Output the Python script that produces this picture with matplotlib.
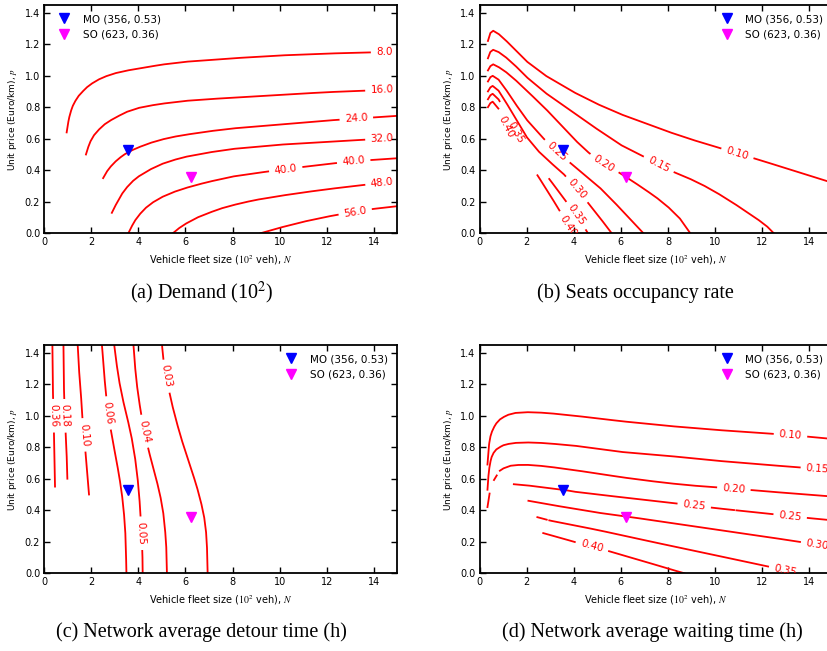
import numpy as np
import matplotlib
matplotlib.use("Agg")
import matplotlib.pyplot as plt

plt.rcParams["font.family"] = "DejaVu Sans"
plt.rcParams["mathtext.fontset"] = "stix"

# operating points (N in 10^2 veh, p in Euro/km)
MO_N, MO_P = 3.56, 0.53
SO_N, SO_P = 6.23, 0.36

# (a) demand (10^2) - contour lines
A08_X = [0.95, 1.0, 1.05, 1.12, 1.2, 1.3, 1.45, 1.6, 1.8, 2.0, 2.3, 2.6, 3.0, 3.5, 4.0, 5.0, 6.0, 8.0, 10.0, 12.0, 14.0, 15.0]
A08_Y = [0.64, 0.69, 0.73, 0.77, 0.805, 0.835, 0.87, 0.895, 0.925, 0.948, 0.975, 0.995, 1.015, 1.032, 1.045, 1.07, 1.088, 1.11, 1.128, 1.14, 1.148, 1.15]
A16_X = [1.77, 1.85, 1.95, 2.1, 2.3, 2.55, 2.8, 3.1, 3.5, 4.0, 4.5, 5.0, 6.0, 7.0, 8.0, 10.0, 12.0, 14.0, 15.0]
A16_Y = [0.5, 0.54, 0.58, 0.62, 0.655, 0.69, 0.715, 0.74, 0.77, 0.795, 0.81, 0.822, 0.84, 0.851, 0.86, 0.878, 0.895, 0.907, 0.912]
A24_X = [2.5, 2.65, 2.8, 3.0, 3.2, 3.4, 3.7, 4.0, 4.5, 5.0, 5.5, 6.0, 7.0, 8.0, 10.0, 12.0, 14.0, 15.0]
A24_Y = [0.35, 0.39, 0.42, 0.452, 0.478, 0.5, 0.525, 0.545, 0.573, 0.595, 0.612, 0.625, 0.647, 0.665, 0.69, 0.715, 0.735, 0.745]
A32_X = [2.87, 3.0, 3.15, 3.3, 3.5, 3.75, 4.0, 4.5, 5.0, 5.5, 6.0, 7.0, 8.0, 10.0, 12.0, 14.0, 15.0]
A32_Y = [0.13, 0.17, 0.21, 0.25, 0.29, 0.33, 0.36, 0.405, 0.44, 0.465, 0.485, 0.513, 0.535, 0.562, 0.58, 0.597, 0.603]
A40_X = [3.57, 3.7, 3.85, 4.05, 4.3, 4.6, 5.0, 5.5, 6.0, 6.5, 7.0, 8.0, 9.0, 10.0, 11.0, 12.0, 13.0, 14.0, 15.0]
A40_Y = [0.0, 0.04, 0.08, 0.12, 0.16, 0.195, 0.23, 0.262, 0.287, 0.308, 0.327, 0.36, 0.382, 0.402, 0.421, 0.439, 0.455, 0.466, 0.476]
A48_X = [5.46, 5.7, 6.0, 6.5, 7.0, 7.5, 8.0, 8.5, 9.0, 10.0, 11.0, 12.0, 13.0, 14.0, 15.0]
A48_Y = [0.0, 0.03, 0.06, 0.1, 0.13, 0.157, 0.178, 0.196, 0.212, 0.237, 0.259, 0.279, 0.297, 0.314, 0.33]
A56_X = [9.18, 9.6, 10.0, 11.0, 12.0, 13.0, 14.0, 15.0]
A56_Y = [0.0, 0.018, 0.035, 0.073, 0.105, 0.132, 0.155, 0.172]

# (b) seats occupancy rate
B10_X = [0.35, 0.45, 0.57, 0.8, 1.1, 1.5, 2.0, 2.8, 4.0, 5.0, 6.0, 7.0, 8.0, 9.0, 10.0, 11.0, 12.0, 13.0, 14.0, 15.0]
B10_Y = [1.22, 1.27, 1.285, 1.265, 1.225, 1.165, 1.09, 1.0, 0.895, 0.82, 0.755, 0.7, 0.645, 0.595, 0.55, 0.505, 0.46, 0.413, 0.366, 0.32]
B15_X = [0.35, 0.45, 0.57, 0.8, 1.1, 1.5, 2.0, 2.8, 3.8, 4.8, 6.0, 6.8, 7.6, 8.3, 8.9, 9.5, 10.1, 10.8, 11.3, 11.8, 12.2, 12.5]
B15_Y = [1.11, 1.15, 1.164, 1.15, 1.118, 1.065, 0.99, 0.89, 0.785, 0.68, 0.56, 0.5, 0.435, 0.385, 0.348, 0.305, 0.255, 0.19, 0.14, 0.09, 0.045, 0.0]
B20_X = [0.35, 0.45, 0.57, 0.8, 1.1, 1.5, 2.0, 2.8, 3.6, 4.1, 4.6, 5.0, 5.3, 5.7, 6.0, 6.5, 7.0, 7.5, 8.0, 8.5, 8.95]
B20_Y = [1.033, 1.06, 1.072, 1.055, 1.025, 0.975, 0.905, 0.79, 0.665, 0.585, 0.515, 0.47, 0.44, 0.405, 0.378, 0.33, 0.28, 0.228, 0.168, 0.095, 0.0]
B25_X = [0.35, 0.45, 0.55, 0.8, 1.1, 1.5, 2.0, 2.7, 3.3, 3.9, 4.5, 5.1, 5.7, 6.3, 6.96]
B25_Y = [0.963, 0.99, 0.999, 0.975, 0.915, 0.825, 0.72, 0.603, 0.518, 0.44, 0.365, 0.29, 0.2, 0.105, 0.0]
B30_X = [0.35, 0.45, 0.55, 0.8, 1.1, 1.5, 2.0, 2.5, 3.0, 3.56, 4.14, 4.62, 5.1, 5.61]
B30_Y = [0.9, 0.925, 0.935, 0.905, 0.835, 0.735, 0.61, 0.52, 0.45, 0.377, 0.28, 0.19, 0.1, 0.0]
B35_X = [0.35, 0.45, 0.55, 0.8, 1.1, 1.5, 2.0, 2.5, 2.99, 3.73, 4.13, 4.6]
B35_Y = [0.85, 0.875, 0.885, 0.85, 0.77, 0.65, 0.53, 0.43, 0.338, 0.19, 0.116, 0.0]
B40_X = [0.35, 0.45, 0.55, 0.8, 1.12, 1.5, 1.83, 2.49, 3.0, 3.49, 3.76, 4.0]
B40_Y = [0.8, 0.825, 0.835, 0.79, 0.677, 0.58, 0.505, 0.36, 0.24, 0.12, 0.05, 0.0]

# (c) network average detour time (h)
C36_X = [0.34, 0.36, 0.39, 0.41, 0.435, 0.455]
C36_Y = [1.5, 1.2, 1.0, 0.89, 0.7, 0.55]
C18_X = [0.81, 0.83, 0.87, 0.91, 0.95, 0.98]
C18_Y = [1.5, 1.2, 1.0, 0.88, 0.75, 0.6]
C10_X = [1.4, 1.47, 1.55, 1.62, 1.69, 1.76, 1.83, 1.9]
C10_Y = [1.5, 1.3, 1.15, 0.985, 0.88, 0.75, 0.62, 0.5]
C06_X = [2.42, 2.45, 2.55, 2.66, 2.78, 2.92, 3.06, 3.19, 3.3, 3.38, 3.44, 3.47, 3.49]
C06_Y = [1.5, 1.45, 1.25, 1.08, 0.95, 0.83, 0.72, 0.61, 0.5, 0.39, 0.27, 0.14, 0.0]
C05_X = [2.95, 2.97, 3.06, 3.18, 3.34, 3.52, 3.7, 3.85, 3.96, 4.04, 4.09, 4.13, 4.17, 4.18]
C05_Y = [1.5, 1.45, 1.34, 1.22, 1.1, 0.99, 0.87, 0.74, 0.61, 0.48, 0.36, 0.24, 0.12, 0.0]
C04_X = [3.76, 3.79, 3.85, 3.93, 4.03, 4.15, 4.3, 4.45, 4.62, 4.78, 4.93, 5.05, 5.13, 5.18, 5.2, 5.21]
C04_Y = [1.5, 1.45, 1.32, 1.2, 1.09, 0.98, 0.87, 0.77, 0.675, 0.585, 0.49, 0.39, 0.28, 0.18, 0.08, 0.0]
C03_X = [4.98, 5.0, 5.05, 5.14, 5.27, 5.43, 5.62, 5.83, 6.05, 6.27, 6.48, 6.66, 6.79, 6.87, 6.91, 6.93, 6.94]
C03_Y = [1.5, 1.45, 1.37, 1.28, 1.18, 1.07, 0.96, 0.85, 0.75, 0.65, 0.55, 0.45, 0.36, 0.27, 0.18, 0.08, 0.0]

# (d) network average waiting time (h)
D10_X = [0.33, 0.36, 0.4, 0.45, 0.51, 0.6, 0.7, 0.85, 1.0, 1.2, 1.5, 2.0, 2.5, 3.0, 4.0, 5.0, 6.0, 8.0, 10.0, 12.0, 13.2, 14.0, 15.0]
D10_Y = [0.69, 0.75, 0.82, 0.865, 0.895, 0.925, 0.95, 0.975, 0.99, 1.005, 1.017, 1.022, 1.02, 1.015, 1.0, 0.983, 0.965, 0.935, 0.91, 0.89, 0.876, 0.866, 0.852]
D15_X = [0.33, 0.36, 0.4, 0.45, 0.5, 0.58, 0.7, 0.85, 1.0, 1.2, 1.5, 2.0, 2.5, 3.0, 4.0, 5.0, 6.0, 8.0, 10.0, 12.0, 14.0, 15.0]
D15_Y = [0.53, 0.6, 0.66, 0.705, 0.735, 0.762, 0.785, 0.8, 0.812, 0.82, 0.827, 0.83, 0.828, 0.823, 0.81, 0.79, 0.77, 0.745, 0.715, 0.69, 0.667, 0.657]
D20_X = [0.33, 0.36, 0.4, 0.45, 0.5, 0.6, 0.7, 0.85, 1.0, 1.3, 1.6, 2.0, 2.5, 3.0, 4.0, 5.0, 6.0, 7.0, 8.0, 9.0, 10.0, 11.0, 12.0, 13.0, 14.0, 15.0]
D20_Y = [0.42, 0.45, 0.49, 0.53, 0.56, 0.59, 0.615, 0.65, 0.665, 0.682, 0.687, 0.688, 0.683, 0.675, 0.655, 0.633, 0.61, 0.59, 0.572, 0.557, 0.546, 0.535, 0.522, 0.51, 0.498, 0.487]
D25_X = [1.45, 2.0, 2.6, 3.0, 3.56, 4.0, 5.0, 6.0, 7.0, 8.0, 9.0, 10.0, 11.0, 12.0, 13.0, 14.0, 15.0]
D25_Y = [0.565, 0.558, 0.547, 0.54, 0.53, 0.518, 0.5, 0.483, 0.466, 0.449, 0.432, 0.414, 0.398, 0.382, 0.367, 0.35, 0.336]
D30_X = [2.07, 3.0, 4.0, 5.0, 6.25, 7.0, 8.0, 9.0, 10.0, 11.0, 12.0, 13.0, 14.0, 15.0]
D30_Y = [0.46, 0.435, 0.41, 0.385, 0.36, 0.344, 0.322, 0.3, 0.278, 0.256, 0.235, 0.213, 0.19, 0.168]
D35_X = [2.45, 3.0, 4.0, 5.0, 6.0, 7.0, 8.0, 9.0, 10.0, 11.0, 12.0, 13.0, 13.6]
D35_Y = [0.356, 0.334, 0.305, 0.275, 0.243, 0.21, 0.178, 0.146, 0.115, 0.083, 0.051, 0.02, 0.0]
D40_X = [2.7, 3.5, 4.0, 4.8, 5.5, 6.0, 7.0, 8.0, 8.7]
D40_Y = [0.255, 0.222, 0.2, 0.172, 0.14, 0.118, 0.075, 0.03, 0.0]

X_TICKS = [0, 2, 4, 6, 8, 10, 12, 14]
Y_TICKS = [0.0, 0.2, 0.4, 0.6, 0.8, 1.0, 1.2, 1.4]

LABEL_FS = 7.5
GAP_PAD = 6


def contour_line(ax, xs, ys, text, spots, renderer, hide=()):
    # line in pixels, resampled along its length so labels can cut a gap
    xy = ax.transData.transform(np.column_stack([xs, ys]))
    d = np.hypot(*np.diff(xy, axis=0).T)
    s = np.concatenate([[0.0], np.cumsum(d)])
    fs = np.linspace(0, s[-1], max(int(s[-1] * 3), 2))
    fx = np.interp(fs, s, xy[:, 0])
    fy = np.interp(fs, s, xy[:, 1])
    keep = np.ones(fs.size, bool)

    probe = ax.text(0, 0, text, fontsize=LABEL_FS)
    w = probe.get_window_extent(renderer).width
    probe.remove()

    inv = ax.transData.inverted()
    for sx, sy in spots:
        px, py = ax.transData.transform((sx, sy))
        i = np.argmin(np.hypot(fx - px, fy - py))
        s0 = fs[i]
        keep &= np.abs(fs - s0) > w / 2 + GAP_PAD
        x1, x2 = np.interp([s0 - w / 2, s0 + w / 2], fs, fx)
        y1, y2 = np.interp([s0 - w / 2, s0 + w / 2], fs, fy)
        ang = np.degrees(np.arctan2(y2 - y1, x2 - x1))
        if ang > 90:
            ang -= 180
        if ang < -90:
            ang += 180
        tx, ty = inv.transform((fx[i], fy[i]))
        ax.text(tx, ty, text, rotation=ang, rotation_mode="anchor",
                ha="center", va="center", color="red",
                fontsize=LABEL_FS, clip_on=True, zorder=3)

    pts = inv.transform(np.column_stack([fx, fy]))
    for h0, h1 in hide:
        keep &= ~((pts[:, 0] > h0) & (pts[:, 0] < h1))
    pts[~keep] = np.nan
    ax.plot(pts[:, 0], pts[:, 1], color="red", lw=1.3, zorder=2)


def setup(ax):
    ax.set_xlim(0, 15)
    ax.set_ylim(0, 1.45)
    ax.set_xticks(X_TICKS)
    ax.set_yticks(Y_TICKS)
    ax.set_xticklabels([str(t) for t in X_TICKS])
    ax.set_yticklabels(["%.1f" % t for t in Y_TICKS])
    ax.tick_params(direction="in", top=True, right=True, length=4,
                   width=1, labelsize=7, pad=3)
    for sp in ax.spines.values():
        sp.set_linewidth(1.3)
    ax.set_xlabel("Vehicle fleet size ($10^2$ veh), $N$", fontsize=7)
    ax.set_ylabel("Unit price (Euro/km), $p$", fontsize=6.5)


def points(ax, loc):
    ax.plot([MO_N], [MO_P], "v", color="blue", ms=6.5, zorder=4,
            label="MO (%d, %.2f)" % (round(MO_N * 100), MO_P))
    ax.plot([SO_N], [SO_P], "v", color="magenta", ms=6.5, zorder=4,
            label="SO (%d, %.2f)" % (round(SO_N * 100), SO_P))
    ax.legend(loc=loc, frameon=False, fontsize=7.5, numpoints=1)


fig = plt.figure(figsize=(8.27, 6.51), dpi=100)
renderer = fig.canvas.get_renderer()

W, H = 353 / 827, 228.6 / 651
ax_a = fig.add_axes([44.3 / 827, (651 - 233.3) / 651, W, H])
ax_b = fig.add_axes([479.7 / 827, (651 - 233.3) / 651, W, H])
ax_c = fig.add_axes([44.3 / 827, (651 - 573.3) / 651, W, H])
ax_d = fig.add_axes([479.7 / 827, (651 - 573.3) / 651, W, H])
for ax in (ax_a, ax_b, ax_c, ax_d):
    setup(ax)

# (a)
contour_line(ax_a, A08_X, A08_Y, "8.0", [(14.45, 1.15)], renderer)
contour_line(ax_a, A16_X, A16_Y, "16.0", [(14.35, 0.91)], renderer)
contour_line(ax_a, A24_X, A24_Y, "24.0", [(13.25, 0.737)], renderer)
contour_line(ax_a, A32_X, A32_Y, "32.0", [(14.35, 0.6)], renderer)
contour_line(ax_a, A40_X, A40_Y, "40.0", [(10.25, 0.41), (13.15, 0.46)], renderer)
contour_line(ax_a, A48_X, A48_Y, "48.0", [(14.35, 0.33)], renderer)
contour_line(ax_a, A56_X, A56_Y, "56.0", [(13.2, 0.14)], renderer)
points(ax_a, "upper left")

# (b)
contour_line(ax_b, B10_X, B10_Y, "0.10", [(10.94, 0.505)], renderer)
contour_line(ax_b, B15_X, B15_Y, "0.15", [(7.6, 0.435)], renderer)
contour_line(ax_b, B20_X, B20_Y, "0.20", [(5.28, 0.44)], renderer)
contour_line(ax_b, B25_X, B25_Y, "0.25", [(3.28, 0.518)], renderer)
contour_line(ax_b, B30_X, B30_Y, "0.30", [(4.14, 0.28)], renderer)
contour_line(ax_b, B35_X, B35_Y, "0.35", [(1.5, 0.635), (4.13, 0.116)], renderer,
             hide=[(0.85, 2.95)])
contour_line(ax_b, B40_X, B40_Y, "0.40", [(1.12, 0.677), (3.76, 0.048)], renderer,
             hide=[(0.8, 2.45)])
points(ax_b, "upper right")

# (c)
contour_line(ax_c, C36_X, C36_Y, "0.36", [(0.38, 1.0)], renderer)
contour_line(ax_c, C18_X, C18_Y, "0.18", [(0.88, 1.0)], renderer)
contour_line(ax_c, C10_X, C10_Y, "0.10", [(1.69, 0.878)], renderer)
contour_line(ax_c, C06_X, C06_Y, "0.06", [(2.71, 1.016)], renderer)
contour_line(ax_c, C05_X, C05_Y, "0.05", [(4.1, 0.254)], renderer)
contour_line(ax_c, C04_X, C04_Y, "0.04", [(4.21, 0.9)], renderer)
contour_line(ax_c, C03_X, C03_Y, "0.03", [(5.21, 1.25)], renderer)
points(ax_c, "upper right")

# (d)
contour_line(ax_d, D10_X, D10_Y, "0.10", [(13.2, 0.875)], renderer)
contour_line(ax_d, D15_X, D15_Y, "0.15", [(14.35, 0.667)], renderer)
contour_line(ax_d, D20_X, D20_Y, "0.20", [(10.8, 0.54)], renderer,
             hide=[(0.42, 0.6), (0.73, 0.85)])
contour_line(ax_d, D25_X, D25_Y, "0.25", [(9.12, 0.43), (13.2, 0.364)], renderer,
             hide=[(10.82, 10.9)])
contour_line(ax_d, D30_X, D30_Y, "0.30", [(14.35, 0.175)], renderer)
contour_line(ax_d, D35_X, D35_Y, "0.35", [(13.0, 0.025)], renderer,
             hide=[(2.85, 2.95)])
contour_line(ax_d, D40_X, D40_Y, "0.40", [(4.77, 0.175)], renderer)
points(ax_d, "upper right")

cap = dict(ha="center", va="center", fontsize=14.5, family="Liberation Serif")
fig.text(0.244, 0.55, "(a) Demand (10$^2$)", **cap)
fig.text(0.768, 0.55, "(b) Seats occupancy rate", **cap)
fig.text(0.244, 0.029, "(c) Network average detour time (h)", **cap)
fig.text(0.789, 0.029, "(d) Network average waiting time (h)", **cap)

fig.savefig("out.png", dpi=100)
